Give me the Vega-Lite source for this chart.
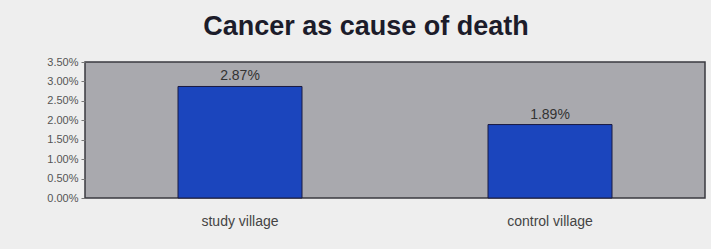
{
  "$schema": "https://vega.github.io/schema/vega-lite/v6.json",
  "autosize": "none",
  "width": 620,
  "height": 136,
  "padding": {"left": 85, "top": 62, "right": 6, "bottom": 51},
  "background": "#eeeeee",
  "title": {
    "text": "Cancer as cause of death",
    "font": "Liberation Sans",
    "fontSize": 27,
    "fontWeight": "bold",
    "color": "#1c1c2a",
    "anchor": "middle",
    "dx": -29,
    "offset": 15
  },
  "data": {
    "values": [
      {"village": "study village", "rate": 0.0287, "label": "2.87%"},
      {"village": "control village", "rate": 0.0189, "label": "1.89%"}
    ]
  },
  "encoding": {
    "x": {
      "field": "village",
      "type": "nominal",
      "sort": null,
      "scale": {"paddingInner": 0.6, "paddingOuter": 0.3},
      "axis": {
        "title": null,
        "labelAngle": 0,
        "labelFont": "Liberation Sans",
        "labelFontSize": 14,
        "labelColor": "#444444",
        "labelPadding": 16,
        "ticks": false,
        "domain": false
      }
    },
    "y": {
      "field": "rate",
      "type": "quantitative",
      "scale": {"domain": [0, 0.035], "nice": false},
      "axis": {
        "title": null,
        "format": ".2%",
        "values": [0, 0.005, 0.01, 0.015, 0.02, 0.025, 0.03, 0.035],
        "grid": false,
        "domain": false,
        "tickSize": 4,
        "tickColor": "#777777",
        "labelFont": "Liberation Sans",
        "labelFontSize": 11,
        "labelColor": "#555555",
        "labelPadding": 3
      }
    }
  },
  "layer": [
    {
      "mark": {"type": "bar", "color": "#1b45bd", "stroke": "#1a1a40", "strokeWidth": 1}
    },
    {
      "mark": {"type": "text", "dy": -10, "font": "Liberation Sans", "fontSize": 14, "color": "#333333"},
      "encoding": {"text": {"field": "label"}}
    }
  ],
  "config": {
    "view": {"fill": "#a9a9ae", "stroke": "#3a3a40", "strokeWidth": 1.5}
  }
}
